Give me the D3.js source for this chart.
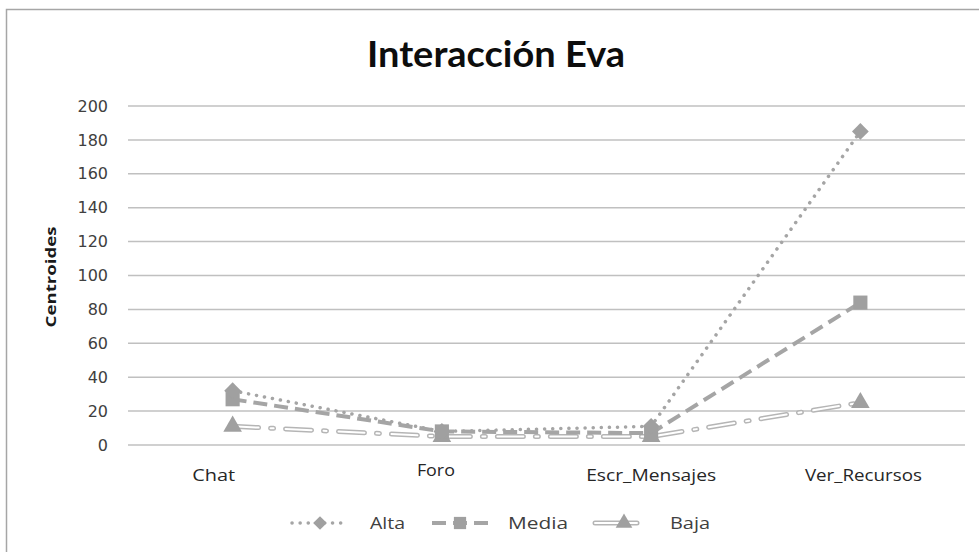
<!DOCTYPE html>
<html><head><meta charset="utf-8">
<script src="https://cdn.jsdelivr.net/npm/d3@7/dist/d3.min.js"></script>
<style>body{margin:0;background:#fff}svg{display:block}</style>
</head><body>
<script>
const categories = ["Chat", "Foro", "Escr_Mensajes", "Ver_Recursos"];
const alta = [32, 8, 11, 185];
const media = [27, 8, 7, 84];
const baja = [11, 5, 5, 25];
const yTicks = [0, 20, 40, 60, 80, 100, 120, 140, 160, 180, 200];
const seriesNames = ["Alta", "Media", "Baja"];

const W = 979, H = 552;
const svg = d3.select("body").append("svg").attr("width", W).attr("height", H);
svg.append("rect").attr("x", 6.5).attr("y", 9.5).attr("width", W).attr("height", H).attr("fill", "#fff").attr("stroke", "#a6a6a6").attr("stroke-width", 1.5);

const x = d3.scaleBand().domain(categories).range([128, 965]);
const y = d3.scaleLinear().domain([0, 200]).range([445, 106]);
const grey = "#a5a5a5";

// gridlines
svg.append("g").selectAll("line").data(yTicks).join("line")
  .attr("x1", 128).attr("x2", 965).attr("y1", d => y(d)).attr("y2", d => y(d))
  .attr("stroke", "#c0c0c0").attr("stroke-width", 1.5);

// y axis
const ya = svg.append("g").attr("transform", "translate(128,0)")
  .call(d3.axisLeft(y).tickValues(yTicks).tickSize(0).tickPadding(20));
ya.select(".domain").remove();
ya.selectAll("text").attr("font-family", "DejaVu Sans, sans-serif").attr("font-size", 16).attr("fill", "#404040");

// x axis labels
const xOff = {Chat: -19, Foro: -6, Escr_Mensajes: 0, Ver_Recursos: 3};
const xLen = {Chat: 43, Foro: 38, Escr_Mensajes: 130, Ver_Recursos: 117};
const xa = svg.append("g").attr("transform", "translate(0,445)")
  .call(d3.axisBottom(x).tickSize(0).tickPadding(27));
xa.select(".domain").remove();
xa.selectAll("text").attr("font-family", "Open Sans, sans-serif").attr("font-size", 15.5).attr("fill", "#262626")
  .attr("dx", d => xOff[d]).attr("textLength", d => xLen[d]).attr("lengthAdjust", "spacingAndGlyphs")
  .attr("dy", d => d === "Foro" ? "0.25em" : "0.6em");

// title
svg.append("text").attr("x", 496).attr("y", 67).attr("text-anchor", "middle")
  .attr("font-family", "Lato, sans-serif").attr("font-weight", 700).attr("font-size", 36).attr("fill", "#0d0d0d")
  .attr("textLength", 258).attr("lengthAdjust", "spacingAndGlyphs")
  .text("Interacción Eva");

// y label
svg.append("text").attr("transform", "translate(56,277) rotate(-90)").attr("text-anchor", "middle")
  .attr("font-family", "Open Sans, sans-serif").attr("font-weight", 700).attr("font-size", 15).attr("fill", "#1a1a1a")
  .attr("textLength", 101).attr("lengthAdjust", "spacingAndGlyphs")
  .text("Centroides");

const cx = d => x(d) + x.bandwidth() / 2;
const line = d3.line().x((d, i) => cx(categories[i])).y(d => y(d));

// Baja: hollow dash-dot line
const bajaDash = "26,12,3,12";
svg.append("path").datum(baja).attr("d", line).attr("fill", "none").attr("stroke", "#b5b5b5")
  .attr("stroke-width", 5).attr("stroke-dasharray", bajaDash).attr("stroke-linecap", "round");
svg.append("path").datum(baja).attr("d", line).attr("fill", "none").attr("stroke", "#fff")
  .attr("stroke-width", 2).attr("stroke-dasharray", bajaDash).attr("stroke-linecap", "round");
// Media: dashed
svg.append("path").datum(media).attr("d", line).attr("fill", "none").attr("stroke", grey)
  .attr("stroke-width", 4).attr("stroke-dasharray", "14,7");
// Alta: dotted
svg.append("path").datum(alta).attr("d", line).attr("fill", "none").attr("stroke", grey)
  .attr("stroke-width", 3.5).attr("stroke-dasharray", "0.1,8").attr("stroke-linecap", "round");

// markers
const sym = {
  Alta: d3.symbol().type(d3.symbolDiamond2).size(180),
  Media: d3.symbol().type(d3.symbolSquare).size(200),
  Baja: d3.symbol().type(d3.symbolTriangle).size(150)
};
const data = {Alta: alta, Media: media, Baja: baja};
["Baja", "Media", "Alta"].forEach(s => {
  svg.append("g").selectAll("path").data(data[s]).join("path")
    .attr("transform", (d, i) => `translate(${cx(categories[i])},${y(d)})`)
    .attr("d", sym[s]()).attr("fill", "#a0a0a0");
});

// legend
const leg = [
  {name: "Alta", x0: 292, tx: 370, tl: 35},
  {name: "Media", x0: 432, tx: 508, tl: 60},
  {name: "Baja", x0: 595, tx: 670, tl: 40}
];
const ly = 523;
leg.forEach(l => {
  const g = svg.append("g");
  const x1 = l.x0, x2 = l.x0 + (l.name === "Baja" ? 42 : 56);
  if (l.name === "Alta") {
    g.append("line").attr("x1", x1).attr("x2", x2).attr("y1", ly).attr("y2", ly).attr("stroke", grey)
      .attr("stroke-width", 3.5).attr("stroke-dasharray", "0.1,8").attr("stroke-linecap", "round");
  } else if (l.name === "Media") {
    g.append("line").attr("x1", x1).attr("x2", x2).attr("y1", ly).attr("y2", ly).attr("stroke", grey)
      .attr("stroke-width", 4).attr("stroke-dasharray", "14,7");
  } else {
    g.append("line").attr("x1", x1).attr("x2", x2).attr("y1", ly).attr("y2", ly).attr("stroke", "#b5b5b5")
      .attr("stroke-width", 5).attr("stroke-linecap", "round");
    g.append("line").attr("x1", x1).attr("x2", x2).attr("y1", ly).attr("y2", ly).attr("stroke", "#fff")
      .attr("stroke-width", 2).attr("stroke-linecap", "round");
  }
  g.append("path").attr("transform", `translate(${(x1 + x2) / 2 + (l.name === "Baja" ? 8 : 0)},${ly})`)
    .attr("d", sym[l.name].size(l.name === "Media" ? 150 : 120)()).attr("fill", "#a0a0a0");
  g.append("text").attr("x", l.tx).attr("y", ly + 6).attr("font-family", "Open Sans, sans-serif")
    .attr("font-size", 16).attr("fill", "#404040")
    .attr("textLength", l.tl).attr("lengthAdjust", "spacingAndGlyphs").text(l.name);
});
</script>
</body></html>
